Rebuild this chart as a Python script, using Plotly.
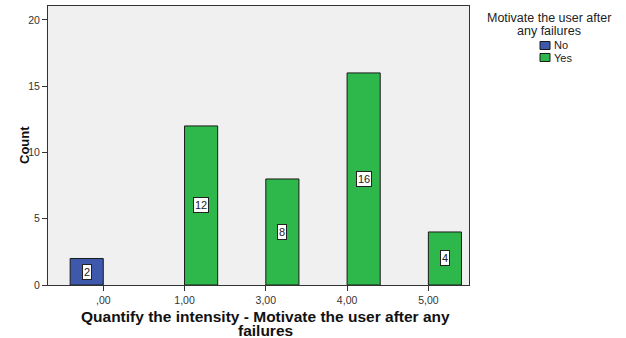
import plotly.graph_objects as go

categories = [",00", "1,00", "3,00", "4,00", "5,00"]
no_counts = [2, None, None, None, None]
yes_counts = [None, 12, 8, 16, 4]
y_ticks = [0, 5, 10, 15, 20]

series_names = ["No", "Yes"]
series_colors = ["#3E58AC", "#2EB84B"]
legend_title = ["Motivate the user after", "any failures"]
x_title = ["Quantify the intensity - Motivate the user after any", "failures"]
y_title = "Count"

FONT = "Liberation Sans, Arial, sans-serif"

# plot area in pixels (matches the SPSS frame)
L, T, R, B = 48, 6, 469, 285
PW, PH = R - L, B - T


def px(x):
    return (x - L) / PW


def py(y):
    return (B - y) / PH


fig = go.Figure()

for name, color, vals in zip(series_names, series_colors, [no_counts, yes_counts]):
    fig.add_trace(go.Bar(
        x=categories, y=vals, name=name,
        marker=dict(color=color, line=dict(color="#1a1a1a", width=1)),
    ))

# value labels in white boxes, centred in each bar
for series, offset in ((no_counts, -0.203), (yes_counts, 0.203)):
    for i, v in enumerate(series):
        if v is None:
            continue
        fig.add_annotation(
            x=i + offset, y=v / 2, text=str(v), showarrow=False,
            font=dict(family=FONT, size=11, color="#222"),
            bgcolor="white", bordercolor="#222", borderwidth=1, borderpad=1,
        )

# axis titles (annotations so the plot area stays fixed)
fig.add_annotation(
    xref="paper", yref="paper", x=px(15), y=0.5,
    text=y_title, textangle=-90, showarrow=False,
    font=dict(family=FONT, size=13, color="#111", weight="bold"),
)
for yc, line in zip([316, 330], x_title):
    fig.add_annotation(
        xref="paper", yref="paper", x=px(265), y=py(yc),
        text=line, showarrow=False, yanchor="middle", borderpad=0,
        font=dict(family=FONT, size=15.5, color="#111", weight="bold"),
    )

# legend drawn by hand to match the compact SPSS layout
for yc, line in zip([18, 30.5], legend_title):
    fig.add_annotation(
        xref="paper", yref="paper", x=px(549), y=py(yc),
        text=line, showarrow=False, xanchor="center", yanchor="middle",
        borderpad=0, font=dict(family=FONT, size=12.5, color="#222"),
    )
for k, (name, color) in enumerate(zip(series_names, series_colors)):
    yc = 45.5 + 12 * k
    fig.add_shape(
        type="rect", xref="paper", yref="paper",
        x0=px(540), x1=px(550), y0=py(yc + 4), y1=py(yc - 4),
        fillcolor=color, line=dict(color="#1a1a1a", width=1),
    )
    fig.add_annotation(
        xref="paper", yref="paper", x=px(552), y=py(yc),
        text=name, showarrow=False, xanchor="left", yanchor="middle",
        font=dict(family=FONT, size=11, color="#222"),
    )

fig.update_layout(
    width=626, height=338,
    barmode="group", bargap=0.185, bargroupgap=0,
    paper_bgcolor="white", plot_bgcolor="#F0F0F0",
    margin=dict(l=L, r=626 - R, t=T, b=338 - B, autoexpand=False),
    font=dict(family=FONT, size=10, color="#333"),
    showlegend=False,
)

fig.update_xaxes(
    type="category", range=[-0.68, 4.5], automargin=False,
    showline=True, linecolor="#333", linewidth=1, mirror=True,
    ticks="outside", ticklen=5, tickcolor="#333",
    tickfont=dict(size=10.5, color="#333"),
)
fig.update_yaxes(
    range=[0, 21.05], tickvals=y_ticks, automargin=False,
    showgrid=False, zeroline=False,
    showline=True, linecolor="#333", linewidth=1, mirror=True,
    ticks="outside", ticklen=5, tickcolor="#333",
    tickfont=dict(size=10.5, color="#333"),
)

# drop the browser's default 8px body margin so the figure sits at (0, 0)
fig.write_html(
    "out.html",
    config={"displayModeBar": False},
    post_script="document.body.style.margin='0';",
)
